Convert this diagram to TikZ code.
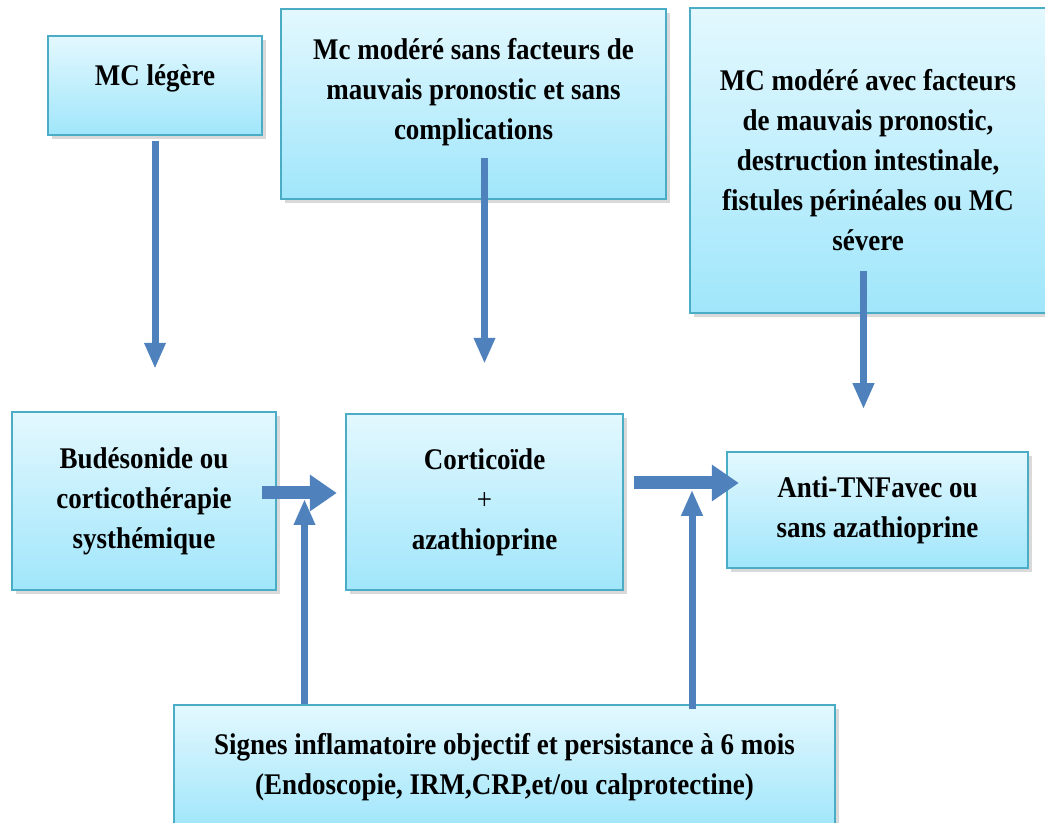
\documentclass[tikz,border=0pt]{standalone}
\usepackage{fontspec}
\setmainfont{Liberation Serif}[FakeStretch=0.9]
\usetikzlibrary{arrows.meta,shadows}
\definecolor{BoxTop}{HTML}{E3F8FE}
\definecolor{BoxBottom}{HTML}{A0E6FB}
\definecolor{BoxLine}{HTML}{4BACC6}
\definecolor{ArrowBlue}{HTML}{4F81BD}

\begin{document}
\begin{tikzpicture}[x=0.5pt,y=-0.5pt,
    box/.style={draw=BoxLine,line width=1.2pt,top color=BoxTop,bottom color=BoxBottom,
      drop shadow={shadow xshift=2pt,shadow yshift=-2pt,opacity=0.3},
      align=center,inner sep=0pt,font=\fontsize{15}{20}\selectfont\bfseries},
    thinarrow/.style={ArrowBlue,line width=3.5pt,-{Triangle[width=10pt,length=13pt]}},
    thickarrow/.style={ArrowBlue,line width=6.5pt,-{Triangle[width=17.5pt,length=13.5pt]}}]
    \useasboundingbox (0,0) rectangle (1045,823);

    % first row
    \node[box,minimum width=107pt,minimum height=49.5pt,text depth=10pt] (legere) at (155,85.5)
      {MC légère};
    \node[box,minimum width=192.5pt,minimum height=95pt,text depth=15pt] (sansfact) at (473.5,104)
      {Mc modéré sans facteurs de\\mauvais pronostic et sans\\complications};
    \node[box,minimum width=178pt,minimum height=152.5pt] (avec) at (868,160.5)
      {MC modéré avec facteurs\\de mauvais pronostic,\\destruction intestinale,\\fistules périnéales ou MC\\sévere};

    % treatments
    \node[box,minimum width=132pt,minimum height=89pt] (bud) at (144,501)
      {Budésonide ou\\corticothérapie\\systhémique};
    \node[box,minimum width=138.5pt,minimum height=88pt] (cortico) at (484.5,502)
      {Corticoïde\\{\mdseries +}\\azathioprine};
    \node[box,minimum width=150.5pt,minimum height=58pt] (anti) at (877.5,510)
      {Anti-TNFavec ou\\sans azathioprine};
    \node[box,minimum width=330.5pt,minimum height=62pt] (signes) at (504.5,767)
      {Signes inflamatoire objectif et persistance à 6 mois\\(Endoscopie, IRM,CRP,et/ou calprotectine)};

    \draw[thinarrow] ([shift={(0,5)}]legere.south) -- ([shift={(0,-42)}]legere.south |- bud.north);
    \draw[thinarrow] ([shift={(0,-42)}]cortico.north |- sansfact.south) -- ([shift={(0,-49)}]cortico.north);
    \draw[thinarrow] ([shift={(-4.5,-43)}]avec.south) -- ([shift={(-4.5,95)}]avec.south);

    \draw[thinarrow] ([shift={(-200,0)}]signes.north) -- ([shift={(-200,-2)}]signes.north |- bud.east);
    \draw[thinarrow] ([shift={(187.5,5)}]signes.north) -- ([shift={(187.5,-214)}]signes.north);
    \draw[thickarrow] ([shift={(-15,-8)}]bud.east) -- ([shift={(-8,-9)}]cortico.west);
    \draw[thickarrow] ([shift={(10,-19)}]cortico.east) -- ([shift={(13,-27)}]anti.west);
  \end{tikzpicture}
\end{document}
